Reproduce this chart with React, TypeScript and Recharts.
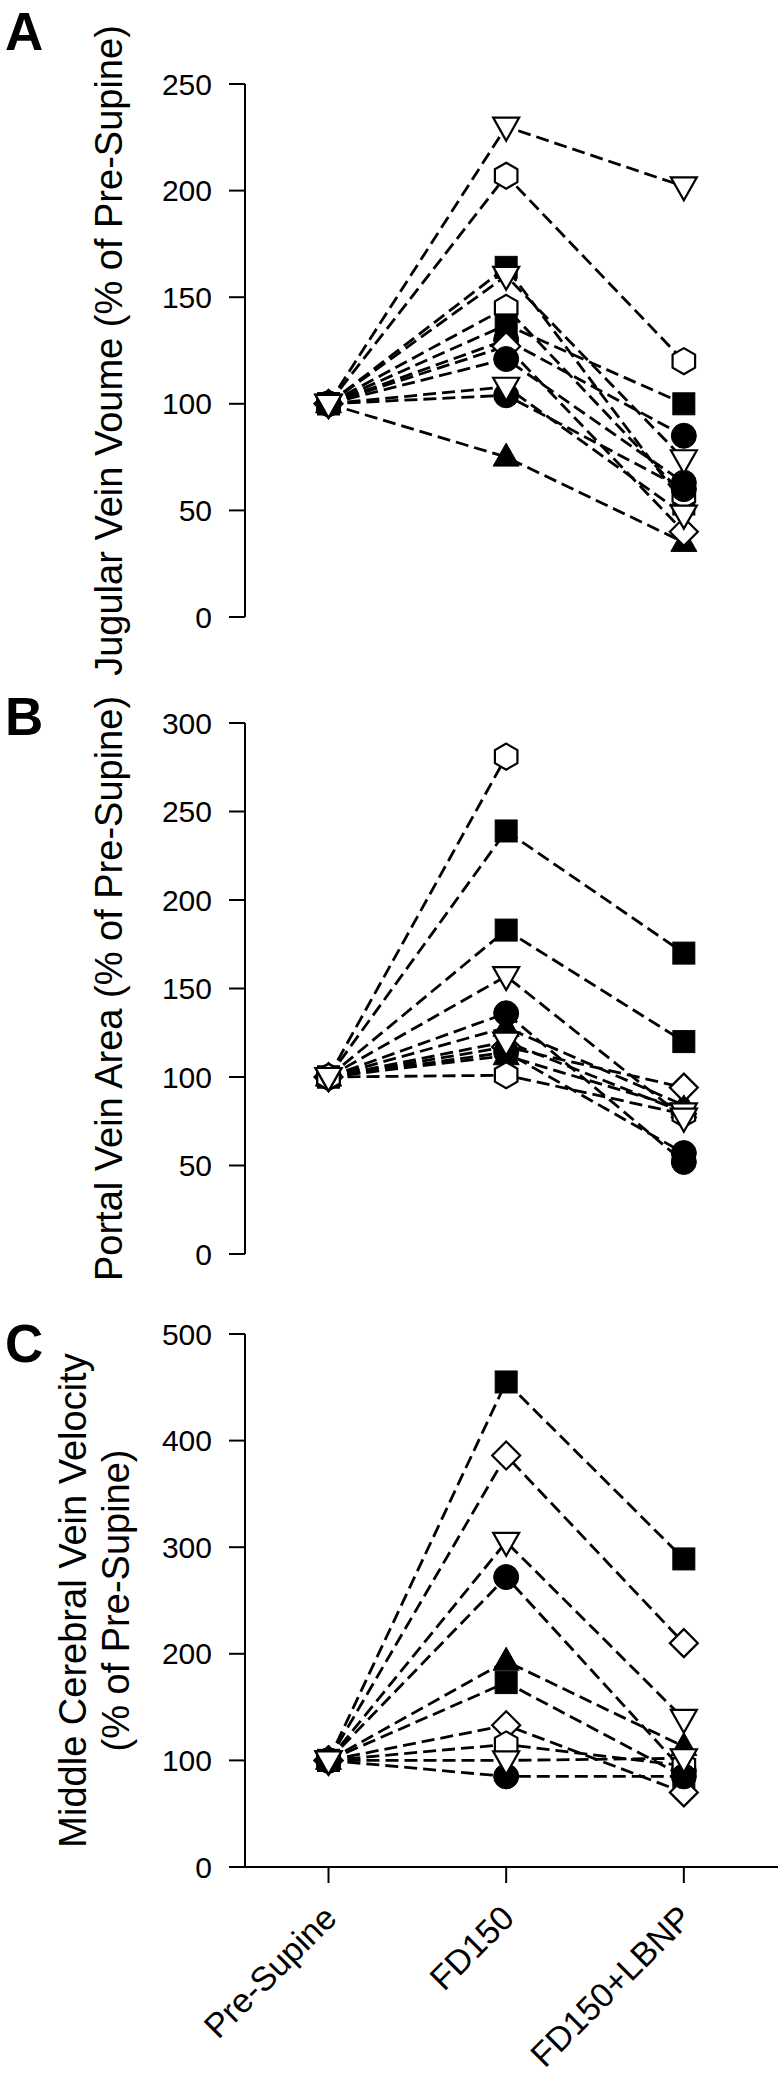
import { LineChart, Line, XAxis, YAxis } from "recharts";

const font = '"Liberation Sans", Arial, Helvetica, sans-serif';

const categories = ["Pre-Supine", "FD150", "FD150+LBNP"];

// A: jugular vein volume, % of pre-supine
const jugularMarkers = ["triangle", "hexagon", "square", "hexagon", "square", "circle", "diamond", "circle", "circle", "triDown", "triDown", "triDown"];
const jugularPre = [100, 100, 100, 100, 100, 100, 100, 100, 100, 100, 100, 100];
const jugularFD150 = [75, 207, 164, 145, 137, 130, 127, 121, 104, 108, 160, 230];
const jugularLBNP = [35, 120, 53, 57, 100, 85, 40, 63, 60, 48, 74, 202];
const jugularTicks = [0, 50, 100, 150, 200, 250];

// B: portal vein area, % of pre-supine
const portalMarkers = ["hexagon", "square", "square", "circle", "triangle", "diamond", "circle", "triangle", "hexagon", "triDown", "triDown"];
const portalPre = [100, 100, 100, 100, 100, 100, 100, 100, 100, 100, 100];
const portalFD150 = [281, 239, 183, 136, 128, 117, 114, 112, 101, 120, 157];
const portalLBNP = [null, 170, 120, 52, 84, 94, 57, 82, 79, 80, 77];
const portalTicks = [0, 50, 100, 150, 200, 250, 300];

// C: middle cerebral vein velocity, % of pre-supine
const mcvMarkers = ["square", "diamond", "circle", "triangle", "square", "diamond", "hexagon", "circle", "triDown", "triDown"];
const mcvPre = [100, 100, 100, 100, 100, 100, 100, 100, 100, 100];
const mcvFD150 = [455, 386, 272, 193, 173, 133, 115, 85, 100, 305];
const mcvLBNP = [289, 210, 90, 113, 85, 70, 95, 85, 102, 139];
const mcvTicks = [0, 100, 200, 300, 400, 500];

const panelLetters = ["A", "B", "C"];

function buildRows(pre: (number | null)[], fd: (number | null)[], lbnp: (number | null)[]) {
  const cols = [pre, fd, lbnp];
  return categories.map((name, i) => {
    const row: Record<string, any> = { x: i, name };
    cols[i].forEach((v, k) => (row[`s${k}`] = v));
    return row;
  });
}

function Marker({ cx, cy, kind }: { cx?: number; cy?: number; kind: string }) {
  if (cx == null || cy == null || Number.isNaN(cy)) return <g />;
  const open = { fill: "#fff", stroke: "#000", strokeWidth: 2.2 };
  const solid = { fill: "#000", stroke: "#000", strokeWidth: 1 };
  switch (kind) {
    case "circle":
      return <circle cx={cx} cy={cy} r={12.5} {...solid} />;
    case "square":
      return <rect x={cx - 11} y={cy - 11} width={22} height={22} {...solid} />;
    case "triangle":
      return <polygon points={`${cx},${cy - 14} ${cx + 13},${cy + 9} ${cx - 13},${cy + 9}`} {...solid} />;
    case "triDown":
      return <polygon points={`${cx - 13},${cy - 9} ${cx + 13},${cy - 9} ${cx},${cy + 14}`} {...open} />;
    case "diamond":
      return <polygon points={`${cx},${cy - 14} ${cx + 14},${cy} ${cx},${cy + 14} ${cx - 14},${cy}`} {...open} />;
    case "hexagon": {
      const r = 13;
      const pts = [0, 1, 2, 3, 4, 5]
        .map((i) => {
          const a = (Math.PI / 3) * i - Math.PI / 2;
          return `${cx + r * Math.cos(a)},${cy + r * Math.sin(a)}`;
        })
        .join(" ");
      return <polygon points={pts} {...open} />;
    }
    default:
      return <g />;
  }
}

function XTick({ x, y, payload }: any) {
  return (
    <text
      x={0}
      y={0}
      transform={`translate(${x + 10},${y + 35}) rotate(-45)`}
      textAnchor="end"
      fontSize={34}
      fontFamily={font}
      fill="#000"
    >
      {categories[payload.value]}
    </text>
  );
}

type PanelProps = {
  top: number;
  height: number;
  margin: { top: number; right: number; bottom: number; left: number };
  plotHeight: number;
  rows: Record<string, any>[];
  markers: string[];
  yTicks: number[];
  title: string[];
  letter: string;
  letterY: number;
  showX?: boolean;
};

function Panel({ top, height, margin, plotHeight, rows, markers, yTicks, title, letter, letterY, showX }: PanelProps) {
  const cy = margin.top + plotHeight / 2;
  const cx = title.length > 1 ? 94 : 109;
  const gap = 43;
  return (
    <div style={{ position: "absolute", left: 0, top }}>
      <LineChart width={778} height={height} data={rows} margin={margin}>
        <XAxis
          type="number"
          dataKey="x"
          domain={[-0.47, 2.53]}
          ticks={[0, 1, 2]}
          hide={!showX}
          height={showX ? height - margin.top - plotHeight - margin.bottom : 0}
          axisLine={{ stroke: "#000", strokeWidth: 2 }}
          tickLine={{ stroke: "#000", strokeWidth: 2 }}
          tickSize={16}
          tick={<XTick />}
          interval={0}
        />
        <YAxis
          type="number"
          domain={[0, yTicks[yTicks.length - 1]]}
          ticks={yTicks}
          width={245}
          interval={0}
          axisLine={{ stroke: "#000", strokeWidth: 2 }}
          tickLine={{ stroke: "#000", strokeWidth: 2 }}
          tickSize={16}
          tickMargin={17}
          tick={{ fill: "#000", fontSize: 30, fontFamily: font }}
          label={{
            content: () => (
              <g>
                <text x={5} y={letterY} fontSize={53} fontWeight={700} fontFamily={font} fill="#000">
                  {letter}
                </text>
                <text
                  transform={`rotate(-90, ${cx}, ${cy})`}
                  x={cx}
                  y={cy}
                  textAnchor="middle"
                  fontSize={38}
                  fontFamily={font}
                  fill="#000"
                >
                  {title.map((t, i) => (
                    <tspan key={i} x={cx} y={cy + (i - (title.length - 1) / 2) * gap} dy="0.35em">
                      {t}
                    </tspan>
                  ))}
                </text>
              </g>
            ),
          }}
        />
        {markers.map((_, k) => (
          <Line
            key={`l${k}`}
            type="linear"
            dataKey={`s${k}`}
            stroke="#000"
            strokeWidth={2.8}
            strokeDasharray="13 6"
            dot={false}
            activeDot={false}
            isAnimationActive={false}
          />
        ))}
        {markers.map((kind, k) => (
          <Line
            key={`m${k}`}
            type="linear"
            dataKey={`s${k}`}
            stroke="none"
            activeDot={false}
            isAnimationActive={false}
            dot={(p: any) => <Marker key={`d${k}-${p.index}`} cx={p.cx} cy={p.cy} kind={kind} />}
          />
        ))}
      </LineChart>
    </div>
  );
}

export default function App() {
  return (
    <div style={{ position: "absolute", left: 0, top: 0, width: 778, height: 2076, background: "#fff", overflow: "hidden" }}>
      <Panel
        top={0}
        height={680}
        margin={{ top: 84, right: 0, bottom: 63, left: 0 }}
        plotHeight={533}
        rows={buildRows(jugularPre, jugularFD150, jugularLBNP)}
        markers={jugularMarkers}
        yTicks={jugularTicks}
        title={["Jugular Vein Voume (% of Pre-Supine)"]}
        letter={panelLetters[0]}
        letterY={50}
      />
      <Panel
        top={680}
        height={620}
        margin={{ top: 43, right: 0, bottom: 46, left: 0 }}
        plotHeight={531}
        rows={buildRows(portalPre, portalFD150, portalLBNP)}
        markers={portalMarkers}
        yTicks={portalTicks}
        title={["Portal Vein Area (% of Pre-Supine)"]}
        letter={panelLetters[1]}
        letterY={55}
      />
      <Panel
        top={1300}
        height={776}
        margin={{ top: 34, right: 0, bottom: 0, left: 0 }}
        plotHeight={533}
        rows={buildRows(mcvPre, mcvFD150, mcvLBNP)}
        markers={mcvMarkers}
        yTicks={mcvTicks}
        title={["Middle Cerebral Vein Velocity", "(% of Pre-Supine)"]}
        letter={panelLetters[2]}
        letterY={62}
        showX
      />
    </div>
  );
}
